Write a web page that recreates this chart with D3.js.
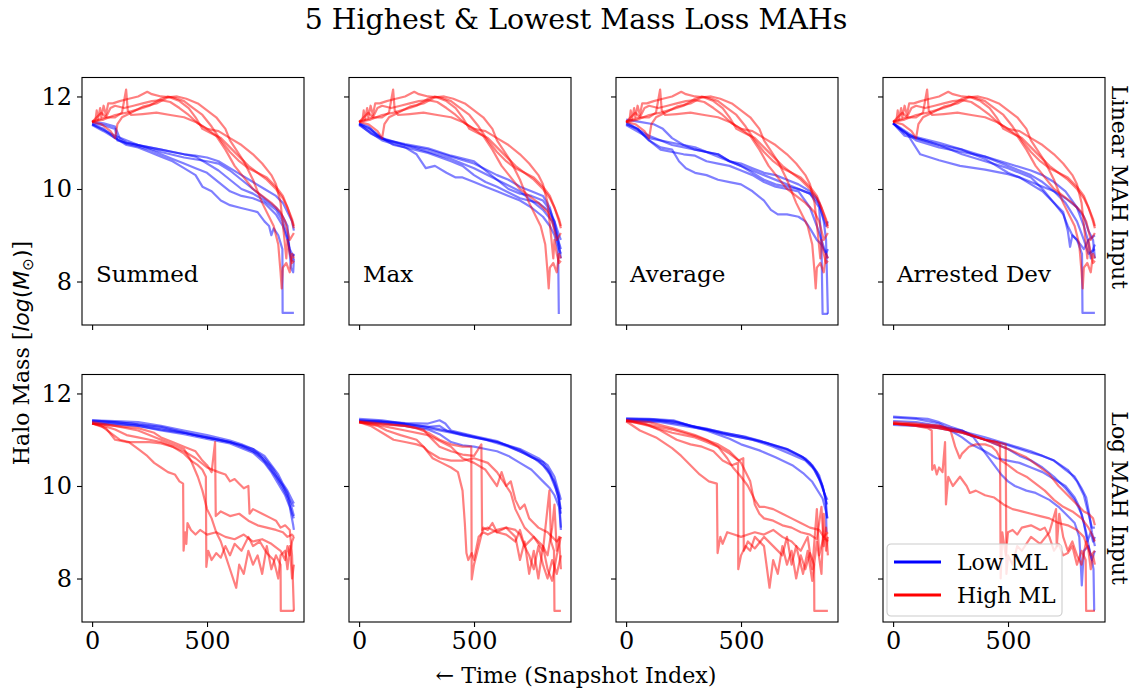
<!DOCTYPE html>
<html>
<head>
<meta charset="utf-8">
<script src="https://cdn.jsdelivr.net/npm/d3@7/dist/d3.min.js"></script>
<style>
  body { margin: 0; background: #fff; }
  svg text { font-family: "DejaVu Serif", serif; fill: #000; }
</style>
</head>
<body>
<div id="plot"></div>
<script>
// Chart texts and ticks
const chartTitle = "5 Highest & Lowest Mass Loss MAHs";
const panelNames = ["Summed", "Max", "Average", "Arrested Dev"];
const rowNames = ["Linear MAH Input", "Log MAH Input"];
const legendNames = ["Low ML", "High ML"];
const xTicks = [0, 500];
const yTicks = [8, 10, 12];

// Each series: flat list of snapshot index, log mass
// Linear input, high ML (same five halos in every top panel)
const linHigh1 = [0,11.45, 15,11.5, 20,11.7, 25,11.5, 35,11.75, 40,11.55, 50,11.8, 60,11.6, 70,11.85, 90,11.85, 120,11.9, 160,11.95, 200,12.0, 240,12.1, 260,12.05, 300,12.0, 340,11.98, 380,11.9, 420,11.75, 450,11.55, 480,11.3, 520,11.2, 560,11.1, 600,10.9, 640,10.7, 680,10.5, 720,10.35, 760,10.2, 800,10.0, 830,9.8, 850,9.6, 870,9.3, 878,9.15];
const linHigh2 = [0,11.45, 30,11.5, 60,11.55, 100,11.55, 130,11.65, 148,12.15, 155,11.7, 170,11.6, 220,11.62, 280,11.65, 340,11.6, 400,11.55, 450,11.45, 500,11.3, 550,11.25, 600,11.1, 650,10.95, 700,10.75, 740,10.55, 780,10.3, 800,10.1, 820,9.7, 835,9.0, 845,8.5, 850,8.9, 860,8.6, 870,8.4, 878,8.45];
const linHigh3 = [0,11.45, 40,11.4, 80,11.25, 100,11.1, 110,11.4, 130,11.55, 170,11.65, 220,11.78, 280,11.85, 330,11.98, 370,12.0, 410,11.95, 460,11.85, 500,11.7, 540,11.55, 580,11.3, 600,11.05, 620,10.9, 660,10.6, 700,10.2, 720,9.95, 740,9.7, 770,9.4, 790,9.2, 810,8.8, 820,8.2, 825,7.85, 830,8.3, 845,8.4, 860,8.2, 870,8.6, 878,8.5];
const linHigh4 = [0,11.45, 50,11.5, 100,11.6, 150,11.65, 200,11.72, 250,11.8, 300,11.95, 330,12.0, 360,11.97, 400,11.9, 440,11.75, 480,11.6, 520,11.35, 560,11.05, 600,10.8, 640,10.6, 680,10.45, 720,10.35, 760,10.25, 800,10.05, 830,9.85, 850,9.6, 870,9.35, 878,9.2];
const linHigh5 = [0,11.45, 20,11.55, 40,11.65, 60,11.55, 80,11.75, 100,11.8, 140,11.75, 180,11.8, 220,11.85, 260,11.9, 300,11.92, 340,11.88, 380,11.75, 420,11.6, 460,11.42, 500,11.3, 540,11.15, 580,10.85, 620,10.5, 660,10.25, 700,10.0, 740,9.85, 780,9.7, 820,9.5, 840,9.3, 860,8.9, 878,9.05];

// Linear input, low ML
const linSumLow1 = [0,11.42, 50,11.38, 100,11.3, 110,11.05, 150,11.0, 200,10.95, 250,10.9, 300,10.85, 350,10.8, 400,10.75, 450,10.72, 500,10.68, 550,10.6, 600,10.45, 650,10.3, 700,10.15, 750,10.0, 800,9.85, 830,9.7, 850,9.5, 870,9.3, 878,9.1];
const linSumLow2 = [0,11.4, 50,11.3, 100,11.1, 150,10.98, 200,10.92, 250,10.85, 300,10.75, 350,10.65, 400,10.55, 450,10.45, 500,10.35, 550,10.15, 600,9.95, 650,9.85, 700,9.8, 750,9.7, 800,9.45, 830,9.2, 850,8.9, 860,8.7, 870,8.6, 878,8.55];
const linSumLow3 = [0,11.38, 50,11.25, 100,11.1, 150,10.95, 200,10.9, 250,10.8, 300,10.7, 350,10.6, 400,10.45, 450,10.3, 480,10.05, 520,9.95, 560,9.75, 600,9.65, 640,9.6, 680,9.55, 720,9.5, 750,9.3, 770,9.2, 780,9.0, 790,9.15, 810,9.0, 828,8.7, 829,7.32, 878,7.32];
const linSumLow4 = [0,11.45, 50,11.42, 100,11.35, 120,11.1, 150,11.0, 200,10.95, 300,10.85, 400,10.75, 450,10.7, 500,10.55, 550,10.4, 600,10.2, 650,10.0, 700,9.9, 750,9.75, 800,9.55, 830,9.3, 850,8.95, 860,8.65, 870,8.45, 878,8.6];
const linSumLow5 = [0,11.4, 100,11.15, 200,10.95, 300,10.8, 400,10.68, 500,10.6, 550,10.55, 600,10.4, 650,10.2, 700,10.0, 750,9.8, 800,9.6, 830,9.4, 850,9.2, 865,8.3, 875,8.2, 878,8.5];

const linMaxLow1 = [0,11.42, 40,11.35, 80,11.15, 120,11.05, 200,10.95, 300,10.85, 400,10.7, 500,10.55, 600,10.3, 650,10.2, 700,10.05, 750,9.95, 800,9.85, 830,9.6, 850,9.2, 870,8.7, 878,8.6];
const linMaxLow2 = [0,11.4, 50,11.2, 100,11.08, 200,10.97, 300,10.88, 400,10.72, 500,10.6, 550,10.4, 600,10.2, 650,10.0, 700,9.9, 750,9.85, 800,9.75, 830,9.55, 850,9.3, 870,9.0, 878,8.9];
const linMaxLow3 = [0,11.4, 50,11.3, 100,11.1, 150,10.95, 200,10.9, 250,10.75, 290,10.45, 330,10.5, 380,10.35, 420,10.25, 450,10.25, 500,10.15, 550,10.05, 600,9.95, 650,9.85, 700,9.75, 750,9.6, 800,9.4, 830,9.2, 850,9.0, 866,8.7, 869,7.3];
const linMaxLow4 = [0,11.42, 100,11.1, 200,10.95, 300,10.8, 400,10.65, 500,10.45, 600,10.2, 700,9.95, 750,9.75, 800,9.55, 840,9.3, 860,9.0, 878,8.7];
const linMaxLow5 = [0,11.38, 100,11.05, 200,10.9, 300,10.78, 400,10.6, 450,10.5, 500,10.3, 550,10.15, 600,10.05, 700,9.8, 780,9.7, 820,9.55, 850,9.3, 870,8.8, 878,8.5];

const linAvgLow1 = [0,11.5, 60,11.45, 120,11.4, 160,11.3, 200,11.1, 250,10.95, 300,10.85, 350,10.8, 400,10.75, 450,10.6, 500,10.55, 550,10.45, 600,10.35, 650,10.3, 700,10.2, 750,10.1, 800,9.95, 830,9.8, 850,9.5, 870,9.2, 878,9.3];
const linAvgLow2 = [0,11.45, 50,11.3, 100,11.05, 150,10.85, 200,10.8, 250,10.75, 300,10.72, 350,10.6, 400,10.55, 450,10.5, 500,10.4, 550,10.3, 600,10.15, 650,10.05, 700,10.0, 750,9.95, 800,9.6, 830,9.2, 850,8.9, 870,8.6, 878,8.5];
const linAvgLow3 = [0,11.4, 50,11.3, 100,11.05, 150,10.9, 200,10.85, 230,10.6, 260,10.45, 300,10.35, 350,10.3, 400,10.2, 450,10.15, 500,10.1, 550,9.95, 600,9.75, 630,9.55, 660,9.45, 700,9.45, 750,9.4, 780,9.3, 800,9.15, 830,8.9, 850,8.8, 870,8.6, 878,8.7];
const linAvgLow4 = [0,11.42, 100,11.15, 200,10.95, 300,10.85, 350,10.8, 400,10.75, 450,10.6, 500,10.5, 550,10.35, 600,10.2, 650,10.1, 700,10.05, 750,10.0, 800,9.9, 840,9.6, 850,8.8, 855,7.3, 878,7.3];
const linAvgLow5 = [0,11.38, 100,11.1, 200,11.0, 300,10.9, 400,10.7, 500,10.5, 600,10.3, 700,10.1, 800,9.9, 840,9.7, 860,9.3, 870,8.9, 878,7.3];

const linArrLow1 = [0,11.42, 30,11.3, 60,11.2, 118,10.75, 200,10.62, 291,10.5, 400,10.42, 500,10.32, 550,10.25, 600,10.1, 650,9.95, 700,9.7, 740,9.45, 760,9.2, 780,9.0, 800,8.9, 822,8.6, 824,7.32, 878,7.32];
const linArrLow2 = [0,11.42, 50,11.2, 100,11.12, 200,11.0, 300,10.85, 400,10.7, 500,10.5, 600,10.3, 650,10.15, 700,9.95, 750,9.7, 800,9.3, 830,8.9, 850,8.6, 878,8.7];
const linArrLow3 = [0,11.42, 50,11.15, 100,11.1, 200,10.95, 300,10.75, 400,10.6, 500,10.45, 600,10.25, 650,10.0, 700,9.7, 740,9.5, 760,9.1, 770,8.75, 780,9.0, 800,8.9, 830,8.7, 850,8.9, 878,9.0];
const linArrLow4 = [0,11.42, 100,11.05, 200,10.9, 300,10.8, 400,10.7, 500,10.55, 600,10.4, 650,10.3, 700,10.15, 750,9.95, 800,9.6, 830,9.2, 850,8.85, 860,8.5, 870,8.7, 878,8.8];
const linArrLow5 = [0,11.42, 100,11.1, 200,10.95, 300,10.85, 400,10.65, 500,10.35, 600,10.15, 700,9.95, 750,9.8, 800,9.6, 830,9.4, 850,9.1, 870,8.9, 878,8.5];

// Log input, low ML
const logSumLow1 = [0,11.42, 100,11.4, 200,11.38, 300,11.3, 400,11.2, 500,11.1, 600,10.98, 650,10.9, 700,10.8, 750,10.65, 780,10.45, 810,10.25, 830,10.05, 850,9.9, 870,9.7, 878,9.62];
const logSumLow2 = [0,11.4, 100,11.38, 200,11.33, 300,11.25, 400,11.15, 500,11.05, 600,10.95, 700,10.75, 740,10.6, 770,10.4, 800,10.2, 830,9.95, 850,9.75, 870,9.4, 878,9.3];
const logSumLow3 = [0,11.38, 100,11.35, 200,11.3, 300,11.2, 400,11.12, 500,11.02, 600,10.92, 700,10.72, 750,10.5, 780,10.3, 810,10.05, 840,9.8, 860,9.55, 875,9.15, 878,9.05];
const logSumLow4 = [0,11.35, 100,11.33, 200,11.3, 300,11.22, 400,11.15, 500,11.05, 600,10.95, 700,10.8, 750,10.6, 790,10.35, 820,10.1, 850,9.85, 870,9.5, 878,9.35];
const logSumLow5 = [0,11.42, 150,11.36, 300,11.28, 450,11.1, 550,11.0, 650,10.88, 720,10.7, 770,10.45, 800,10.22, 830,10.0, 860,9.7, 878,9.55];

const logMaxLow1 = [0,11.42, 100,11.4, 200,11.36, 300,11.35, 350,11.42, 375,11.35, 400,11.2, 500,11.08, 600,10.97, 700,10.75, 750,10.62, 800,10.52, 830,10.3, 850,10.05, 865,9.8, 878,9.4];
const logMaxLow2 = [0,11.4, 100,11.38, 200,11.33, 300,11.25, 400,11.15, 500,11.05, 600,10.95, 700,10.78, 760,10.6, 800,10.45, 830,10.25, 855,9.95, 870,9.7, 878,9.5];
const logMaxLow3 = [0,11.38, 100,11.36, 200,11.3, 300,11.22, 350,11.12, 400,10.95, 450,10.88, 500,10.85, 550,10.8, 600,10.75, 650,10.65, 700,10.5, 750,10.35, 800,10.1, 830,9.95, 850,9.8, 870,9.55, 878,9.1];
const logMaxLow4 = [0,11.45, 100,11.42, 200,11.35, 300,11.28, 350,11.3, 380,11.2, 450,11.1, 550,11.0, 650,10.85, 720,10.7, 780,10.55, 820,10.35, 850,10.1, 870,9.8, 878,9.05];
const logMaxLow5 = [0,11.42, 150,11.37, 300,11.28, 450,11.12, 600,10.95, 700,10.8, 780,10.6, 820,10.45, 850,10.2, 870,9.85, 878,9.7];

const logAvgLow1 = [0,11.46, 100,11.45, 206,11.42, 280,11.3, 350,11.24, 420,11.15, 523,11.06, 580,10.98, 638,10.88, 700,10.78, 782,10.59, 810,10.45, 840,10.23, 860,9.9, 869,9.65, 872,9.0];
const logAvgLow2 = [0,11.44, 100,11.43, 206,11.4, 300,11.28, 400,11.18, 500,11.08, 600,10.95, 700,10.8, 760,10.65, 800,10.5, 830,10.3, 855,10.0, 869,9.7, 875,9.6];
const logAvgLow3 = [0,11.42, 150,11.4, 250,11.33, 350,11.2, 450,11.02, 500,10.9, 580,10.77, 650,10.62, 723,10.45, 770,10.28, 810,10.09, 855,9.73, 870,9.45, 876,9.3];
const logAvgLow4 = [0,11.4, 150,11.38, 250,11.3, 350,11.22, 450,11.1, 550,11.0, 640,10.85, 720,10.68, 780,10.55, 820,10.35, 850,10.05, 868,9.75, 875,9.3];
const logAvgLow5 = [0,11.45, 120,11.44, 220,11.38, 320,11.26, 420,11.12, 520,11.03, 620,10.92, 700,10.8, 770,10.62, 810,10.42, 840,10.15, 862,9.85, 876,9.7];

const logArrLow1 = [0,11.5, 100,11.47, 150,11.45, 200,11.38, 250,11.28, 300,11.2, 350,11.08, 400,11.0, 450,10.95, 500,10.88, 550,10.8, 600,10.72, 650,10.65, 700,10.55, 750,10.35, 790,10.2, 820,9.95, 840,9.75, 855,9.35, 865,9.0, 878,8.7];
const logArrLow2 = [0,11.48, 100,11.45, 200,11.35, 250,11.2, 300,11.05, 340,10.9, 400,10.75, 450,10.6, 500,10.55, 550,10.5, 600,10.4, 650,10.3, 700,10.15, 750,10.0, 790,9.75, 810,9.55, 830,9.2, 845,8.8, 860,9.0, 870,8.8, 878,8.9];
const logArrLow3 = [0,11.35, 100,11.32, 200,11.28, 300,11.2, 350,11.05, 380,10.85, 410,10.65, 440,10.45, 470,10.25, 500,10.1, 530,10.0, 580,9.9, 620,9.85, 680,9.7, 720,9.55, 760,9.35, 790,9.2, 810,8.9, 815,8.5, 821,7.85, 830,8.6, 850,8.7, 865,8.4, 878,8.6];
const logArrLow4 = [0,11.32, 100,11.3, 200,11.25, 300,11.15, 400,11.0, 450,10.9, 500,10.8, 550,10.65, 600,10.55, 650,10.4, 700,10.2, 750,9.95, 790,9.7, 820,9.4, 840,9.0, 855,8.6, 865,8.4, 872,8.2, 875,7.32, 878,7.32];
const logArrLow5 = [0,11.4, 100,11.38, 200,11.3, 300,11.18, 400,11.05, 500,10.9, 600,10.75, 700,10.55, 760,10.35, 800,10.1, 830,9.8, 850,9.4, 865,9.1, 878,9.1];

// Log input, high ML
const logSumHigh1 = [0,11.35, 40,11.3, 80,11.15, 120,11.0, 160,10.95, 200,10.8, 240,10.65, 270,10.5, 300,10.4, 330,10.3, 360,10.25, 380,10.1, 396,10.05, 398,8.6, 405,9.0, 410,8.75, 415,9.2, 430,9.05, 450,8.95, 470,9.05, 500,8.95, 540,9.0, 580,8.9, 620,8.85, 660,8.95, 700,8.8, 740,8.85, 780,8.75, 820,8.6, 840,8.4, 850,8.7, 860,8.5, 870,8.8, 878,8.9];
const logSumHigh2 = [0,11.35, 60,11.25, 100,11.0, 150,10.95, 200,10.95, 250,10.95, 300,10.92, 350,10.85, 400,10.7, 430,10.55, 460,10.45, 480,10.35, 495,10.2, 497,8.25, 505,8.6, 520,8.4, 540,8.55, 560,8.45, 580,8.7, 600,8.5, 620,8.75, 650,8.6, 680,8.9, 700,8.7, 730,8.8, 760,8.55, 790,8.4, 810,8.0, 820,8.5, 840,8.6, 850,8.2, 860,8.7, 870,8.0, 878,8.3];
const logSumHigh3 = [0,11.35, 100,11.3, 200,11.25, 270,11.15, 300,11.05, 350,10.95, 400,10.85, 450,10.75, 480,10.55, 500,10.45, 520,10.3, 535,10.95, 538,9.35, 560,9.45, 600,9.35, 640,9.4, 680,9.25, 720,9.15, 760,9.1, 800,9.05, 830,9.0, 850,8.9, 870,8.95, 878,8.9];
const logSumHigh4 = [0,11.35, 50,11.3, 100,11.22, 150,11.1, 200,11.05, 250,11.0, 300,10.95, 350,10.85, 400,10.75, 450,10.6, 500,10.4, 550,10.3, 580,10.25, 600,10.1, 620,10.15, 640,10.05, 660,9.95, 680,10.0, 685,9.4, 700,9.5, 740,9.4, 780,9.3, 800,9.25, 820,9.1, 840,9.15, 860,9.05, 870,8.5, 878,7.3];
const logSumHigh5 = [0,11.38, 100,11.3, 200,11.2, 300,11.0, 350,10.9, 400,10.8, 430,10.55, 460,10.2, 480,9.9, 500,9.5, 520,9.3, 540,9.0, 560,8.8, 580,8.5, 600,8.2, 620,7.9, 627,7.8, 640,8.3, 660,8.1, 680,8.6, 700,8.3, 720,8.5, 740,8.1, 760,8.7, 780,8.2, 800,8.5, 820,8.3, 821,7.3, 878,7.3];

const logMaxHigh1 = [0,11.38, 50,11.3, 100,11.15, 150,11.0, 200,10.95, 250,10.9, 280,10.85, 320,10.6, 360,10.5, 400,10.4, 430,10.3, 450,9.9, 460,9.2, 467,8.55, 475,8.4, 490,8.55, 500,8.4, 520,8.9, 540,9.0, 560,8.95, 600,9.05, 640,9.1, 680,9.05, 700,8.95, 720,8.7, 740,8.5, 760,8.2, 780,8.7, 800,8.3, 820,8.0, 840,8.4, 860,8.1, 878,8.5];
const logMaxHigh2 = [0,11.38, 100,11.33, 200,11.3, 250,11.25, 300,11.15, 350,11.0, 400,10.9, 450,10.85, 488,10.85, 490,7.98, 500,8.3, 520,8.7, 540,9.1, 560,9.05, 580,9.2, 600,9.0, 640,9.1, 680,8.9, 700,8.4, 720,8.8, 740,8.1, 760,8.6, 780,8.0, 800,8.7, 820,8.2, 840,7.95, 860,8.5, 878,8.9];
const logMaxHigh3 = [0,11.4, 100,11.35, 200,11.3, 280,11.22, 300,11.1, 350,10.85, 400,10.75, 450,10.68, 500,10.65, 532,10.9, 535,9.05, 560,9.1, 600,9.0, 640,8.95, 680,8.8, 700,9.05, 720,8.7, 760,8.9, 800,8.6, 828,9.9, 835,8.8, 848,8.6, 850,7.3, 878,7.3];
const logMaxHigh4 = [0,11.38, 100,11.3, 200,11.2, 300,11.1, 400,10.85, 450,10.6, 500,10.5, 550,10.35, 600,10.0, 620,10.3, 640,10.0, 660,10.1, 680,9.7, 700,9.5, 720,9.6, 740,9.3, 760,9.2, 780,9.1, 800,9.05, 820,9.0, 840,8.9, 860,8.8, 878,8.9];
const logMaxHigh5 = [0,11.38, 80,11.3, 120,11.2, 180,11.1, 250,11.0, 300,10.75, 350,10.6, 400,10.55, 450,10.55, 500,10.6, 560,10.5, 600,10.3, 640,10.0, 660,9.85, 680,9.5, 700,9.3, 720,9.1, 740,9.0, 760,8.9, 780,8.8, 800,8.7, 820,8.5, 840,9.1, 850,9.6, 860,8.6, 870,8.9, 878,8.2];

const logAvgHigh1 = [0,11.4, 60,11.2, 130,11.05, 200,10.82, 240,10.65, 280,10.45, 320,10.25, 360,10.1, 395,10.05, 398,8.55, 410,8.9, 420,8.75, 440,9.0, 470,8.95, 500,8.9, 530,8.95, 560,9.0, 600,8.95, 640,9.05, 680,8.9, 720,8.8, 760,8.6, 790,8.9, 810,8.2, 830,9.5, 840,8.5, 860,8.9, 878,8.8];
const logAvgHigh2 = [0,11.42, 80,11.35, 150,11.2, 220,11.0, 280,10.9, 330,10.85, 380,10.75, 420,10.55, 460,10.45, 487,10.5, 488,8.2, 500,8.5, 520,8.7, 540,8.6, 560,8.9, 600,8.7, 624,7.8, 640,8.4, 660,8.1, 680,8.7, 700,8.3, 720,8.6, 740,8.0, 760,8.5, 780,8.2, 800,8.55, 818,8.3, 819,7.3, 878,7.3];
const logAvgHigh3 = [0,11.42, 100,11.3, 200,11.15, 300,11.05, 350,10.95, 400,10.85, 450,10.7, 490,10.55, 510,10.6, 512,8.6, 530,8.8, 560,8.65, 600,8.9, 640,8.7, 680,8.5, 700,8.9, 720,8.3, 740,8.7, 770,8.1, 790,8.6, 810,7.95, 830,8.8, 850,8.1, 860,9.4, 870,8.6, 878,8.9];
const logAvgHigh4 = [0,11.42, 100,11.38, 200,11.25, 300,11.1, 350,11.0, 400,10.85, 440,10.6, 465,10.4, 500,10.2, 530,10.0, 560,9.7, 580,9.55, 600,9.55, 640,9.5, 680,9.4, 720,9.3, 760,9.2, 800,9.1, 840,9.05, 860,8.9, 878,9.0];
const logAvgHigh5 = [0,11.4, 100,11.32, 200,11.22, 300,11.08, 400,10.9, 450,10.75, 500,10.5, 540,10.1, 560,9.6, 580,9.4, 600,9.3, 640,9.25, 680,9.15, 720,9.1, 760,9.0, 800,8.95, 830,8.85, 850,9.55, 860,8.7, 870,9.1, 878,8.5];

const logArrHigh1 = [0,11.35, 50,11.33, 100,11.3, 150,11.25, 168,11.2, 170,10.35, 180,10.45, 190,10.25, 200,10.4, 215,10.3, 226,10.95, 230,9.6, 240,10.2, 260,10.0, 291,10.2, 320,10.0, 334,9.85, 360,9.9, 400,9.8, 440,9.75, 480,9.6, 520,9.5, 560,9.45, 600,9.4, 640,9.35, 680,9.3, 720,9.2, 760,9.15, 800,9.05, 830,8.9, 850,8.6, 860,8.2, 870,8.5, 878,8.3];
const logArrHigh2 = [0,11.35, 100,11.32, 200,11.3, 250,11.2, 270,10.85, 290,10.6, 300,10.7, 330,10.85, 360,10.9, 400,10.9, 430,10.85, 450,10.75, 470,10.55, 500,10.45, 540,10.3, 580,10.2, 620,10.05, 660,9.9, 700,9.7, 740,9.55, 780,9.45, 820,9.3, 850,9.1, 870,8.9, 878,8.8];
const logArrHigh3 = [0,11.35, 100,11.32, 200,11.25, 300,11.15, 400,11.0, 450,10.95, 465,10.9, 468,8.0, 475,9.0, 490,8.5, 500,9.0, 520,9.05, 540,8.95, 560,9.1, 600,9.15, 640,9.05, 660,9.1, 680,8.9, 700,8.6, 720,8.75, 740,8.5, 760,8.55, 780,8.7, 800,8.3, 820,8.6, 838,8.4, 840,7.3, 878,7.3];
const logArrHigh4 = [0,11.35, 100,11.3, 200,11.25, 300,11.15, 400,11.0, 450,10.95, 490,10.9, 493,8.1, 500,8.5, 520,8.3, 540,8.7, 560,8.6, 600,8.9, 640,8.75, 680,9.0, 709,9.5, 712,8.7, 723,9.4, 740,8.9, 760,8.6, 780,8.8, 800,8.5, 820,8.3, 840,8.8, 860,8.5, 878,8.6];
const logArrHigh5 = [0,11.38, 100,11.35, 200,11.3, 300,11.18, 400,11.0, 500,10.8, 580,10.62, 640,10.4, 680,10.25, 720,10.0, 760,9.8, 800,9.6, 830,9.45, 850,9.4, 870,9.3, 878,9.15];

const linHigh = [linHigh1, linHigh2, linHigh3, linHigh4, linHigh5];
const panels = [
  {row: 0, col: 0, low: [linSumLow1, linSumLow2, linSumLow3, linSumLow4, linSumLow5], high: linHigh},
  {row: 0, col: 1, low: [linMaxLow1, linMaxLow2, linMaxLow3, linMaxLow4, linMaxLow5], high: linHigh},
  {row: 0, col: 2, low: [linAvgLow1, linAvgLow2, linAvgLow3, linAvgLow4, linAvgLow5], high: linHigh},
  {row: 0, col: 3, low: [linArrLow1, linArrLow2, linArrLow3, linArrLow4, linArrLow5], high: linHigh},
  {row: 1, col: 0, low: [logSumLow1, logSumLow2, logSumLow3, logSumLow4, logSumLow5], high: [logSumHigh1, logSumHigh2, logSumHigh3, logSumHigh4, logSumHigh5]},
  {row: 1, col: 1, low: [logMaxLow1, logMaxLow2, logMaxLow3, logMaxLow4, logMaxLow5], high: [logMaxHigh1, logMaxHigh2, logMaxHigh3, logMaxHigh4, logMaxHigh5]},
  {row: 1, col: 2, low: [logAvgLow1, logAvgLow2, logAvgLow3, logAvgLow4, logAvgLow5], high: [logAvgHigh1, logAvgHigh2, logAvgHigh3, logAvgHigh4, logAvgHigh5]},
  {row: 1, col: 3, low: [logArrLow1, logArrLow2, logArrLow3, logArrLow4, logArrLow5], high: [logArrHigh1, logArrHigh2, logArrHigh3, logArrHigh4, logArrHigh5]}
];

// Layout
const width = 1144, height = 694;
const panelW = 222, panelH = 247.5;
const panelLeft = [82, 349, 616, 883];
const panelTop = [77.5, 374.5];
const lowColor = "#0000ff", highColor = "#ff0000";

function toPoints(flat) {
  const pts = [];
  for (let i = 0; i < flat.length; i += 2) pts.push([flat[i], flat[i + 1]]);
  return pts;
}

const svg = d3.select("#plot").append("svg")
  .attr("width", width)
  .attr("height", height);

const x = d3.scaleLinear().domain([-44, 922]).range([0, panelW]);
const y = d3.scaleLinear().domain([7.06, 12.41]).range([panelH, 0]);

const line = d3.line()
  .x(function(d) { return x(d[0]); })
  .y(function(d) { return y(d[1]); });

panels.forEach(function(p) {
  const g = svg.append("g")
    .attr("transform", "translate(" + panelLeft[p.col] + "," + panelTop[p.row] + ")");

  // lines
  p.low.forEach(function(s) {
    g.append("path").attr("d", line(toPoints(s)))
      .attr("fill", "none").attr("stroke", lowColor)
      .attr("stroke-opacity", 0.5).attr("stroke-width", 2.2)
      .attr("stroke-linejoin", "round");
  });
  p.high.forEach(function(s) {
    g.append("path").attr("d", line(toPoints(s)))
      .attr("fill", "none").attr("stroke", highColor)
      .attr("stroke-opacity", 0.5).attr("stroke-width", 2.2)
      .attr("stroke-linejoin", "round");
  });

  // axes
  const ya = g.append("g").call(d3.axisLeft(y).tickValues(yTicks).tickSize(5).tickPadding(5)
    .tickFormat(p.col === 0 ? d3.format("d") : ""));
  const xa = g.append("g").attr("transform", "translate(0," + panelH + ")")
    .call(d3.axisBottom(x).tickValues(xTicks).tickSize(5).tickPadding(5)
    .tickFormat(p.row === 1 ? d3.format("d") : ""));
  [ya, xa].forEach(function(a) {
    a.select(".domain").remove();
    a.selectAll("line").attr("stroke", "#000").attr("stroke-width", 1.1);
    a.selectAll("text").attr("font-size", 24).attr("font-family", "DejaVu Serif").attr("fill", "#000");
  });

  // spines
  g.append("rect").attr("width", panelW).attr("height", panelH)
    .attr("fill", "none").attr("stroke", "#000").attr("stroke-width", 1.1);

  if (p.row === 0) {
    g.append("text").attr("x", 14).attr("y", 204.5)
      .attr("font-size", 23).text(panelNames[p.col]);
  }
});

// row labels on the right
const rowCenter = [187, 498];
rowNames.forEach(function(name, i) {
  svg.append("text")
    .attr("transform", "translate(1112," + rowCenter[i] + ") rotate(90)")
    .attr("text-anchor", "middle")
    .attr("font-size", 22)
    .text(name);
});

// title
svg.append("text").attr("x", 576).attr("y", 29)
  .attr("text-anchor", "middle").attr("font-size", 28.4).text(chartTitle);

// x label
svg.append("text").attr("x", 576).attr("y", 683)
  .attr("text-anchor", "middle").attr("font-size", 22.2).text("\u2190 Time (Snapshot Index)");

// y label with math part
const yl = svg.append("text")
  .attr("transform", "translate(29,353) rotate(-90)")
  .attr("text-anchor", "middle")
  .attr("font-size", 22);
yl.append("tspan").text("Halo Mass [");
yl.append("tspan").attr("font-family", "DejaVu Sans").attr("font-style", "italic").text("log");
yl.append("tspan").attr("font-family", "DejaVu Sans").text("(");
yl.append("tspan").attr("font-family", "DejaVu Sans").attr("font-style", "italic").text("M");
yl.append("tspan").attr("font-family", "DejaVu Sans").attr("font-size", 15).attr("dy", 4).text("\u2299");
yl.append("tspan").attr("font-family", "DejaVu Sans").attr("dy", -4).text(")");
yl.append("tspan").text("]");

// legend in the last panel
const lg = svg.append("g").attr("transform", "translate(887,544)");
lg.append("rect").attr("width", 175).attr("height", 72).attr("rx", 4)
  .attr("fill", "#fff").attr("fill-opacity", 0.8)
  .attr("stroke", "#cccccc").attr("stroke-width", 1.1);
[lowColor, highColor].forEach(function(c, i) {
  lg.append("line").attr("x1", 7).attr("x2", 54)
    .attr("y1", 18 + i * 33).attr("y2", 18 + i * 33)
    .attr("stroke", c).attr("stroke-width", 3);
  lg.append("text").attr("x", 70).attr("y", 26 + i * 33)
    .attr("font-size", 22).text(legendNames[i]);
});
</script>
</body>
</html>
